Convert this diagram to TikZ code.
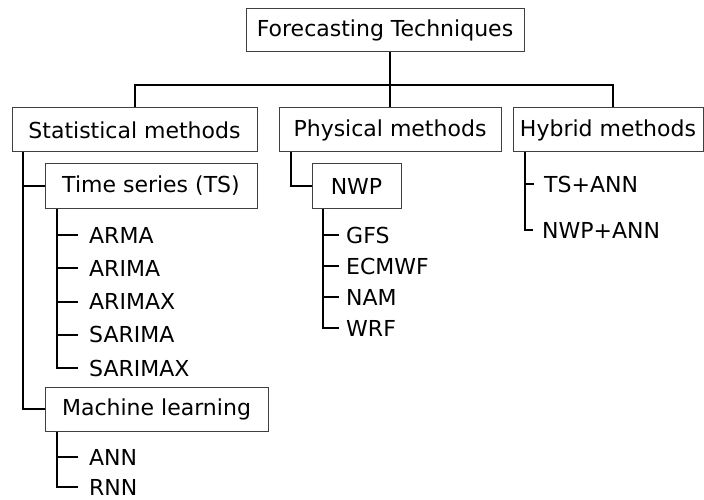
\documentclass[tikz,border=0pt]{standalone}
\usepackage{fontspec}
\setmainfont{DejaVu Sans}
\begin{document}
\begin{tikzpicture}[x=1pt,y=-1pt,
  box/.style={draw=black!75, line width=1pt, fill=white, minimum height=44pt, inner sep=0pt, align=center},
  leaf/.style={anchor=west, inner sep=0pt},
  conn/.style={draw=black, line width=2pt}]
\useasboundingbox (0,0) rectangle (704,500);
\fontsize{22}{26}\selectfont
% boxes
\node[box, minimum width=278pt, minimum height=43pt] (top) at (385,30.5) {Forecasting Techniques};
\node[box, minimum width=245pt] (stat) at (134.5,130) {Statistical methods};
\node[box, minimum width=222pt] (phys) at (390,130) {Physical methods};
\node[box, minimum width=190pt] (hyb) at (608,130) {Hybrid methods};
\node[box, minimum width=212pt, minimum height=45pt] (ts) at (151,186) {Time series (TS)};
\node[box, minimum width=89pt, minimum height=45pt] (nwp) at (356.5,186) {NWP};
\node[box, minimum width=223pt] (ml) at (156.5,409) {Machine learning};
% leaves
\node[leaf] (arma)    at (89,235) {ARMA};
\node[leaf] (arima)   at (89,268) {ARIMA};
\node[leaf] (arimax)  at (89,301.5) {ARIMAX};
\node[leaf] (sarima)  at (89,334.5) {SARIMA};
\node[leaf] (sarimax) at (89,368) {SARIMAX};
\node[leaf] (ann) at (89,457) {ANN};
\node[leaf] (rnn) at (89,487) {RNN};
\node[leaf] (gfs)   at (346,235) {GFS};
\node[leaf] (ecmwf) at (346,266) {ECMWF};
\node[leaf] (nam)   at (346,297) {NAM};
\node[leaf] (wrf)   at (346,328) {WRF};
\node[leaf] (tsann)  at (544,184) {TS+ANN};
\node[leaf] (nwpann) at (542,230) {NWP+ANN};
% helper coordinates
\coordinate (hx) at (613,85);
\coordinate (sv) at ([xshift=11pt]stat.south west);
\coordinate (tv) at ([xshift=12pt]ts.south west);
\coordinate (mv) at ([xshift=12pt]ml.south west);
\coordinate (pv) at ([xshift=12pt]phys.south west);
\coordinate (nv) at ([xshift=11pt]nwp.south west);
\coordinate (hv) at ([xshift=12pt]hyb.south west);
% top level
\draw[conn] (top.south -| phys.north) -- (phys.north);
\draw[conn] (stat.north) |- (hx) -- (hx |- hyb.north);
% statistical
\draw[conn] (sv) |- (ml.west);
\draw[conn] (sv |- ts.west) -- (ts.west);
\draw[conn] (tv) |- ([xshift=-11pt]sarimax.west);
\foreach \n in {arma,arima,arimax,sarima}
  \draw[conn] (tv |- \n.west) -- ([xshift=-11pt]\n.west);
\draw[conn] (mv) |- ([xshift=-11pt]rnn.west);
\draw[conn] (mv |- ann.west) -- ([xshift=-11pt]ann.west);
% physical
\draw[conn] (pv) |- (nwp.west);
\draw[conn] (nv) |- ([xshift=-7pt]wrf.west);
\foreach \n in {gfs,ecmwf,nam}
  \draw[conn] (nv |- \n.west) -- ([xshift=-7pt]\n.west);
% hybrid
\draw[conn] (hv) |- ([xshift=-9pt]nwpann.west);
\draw[conn] (hv |- tsann.west) -- ([xshift=-10pt]tsann.west);
\end{tikzpicture}
\end{document}
